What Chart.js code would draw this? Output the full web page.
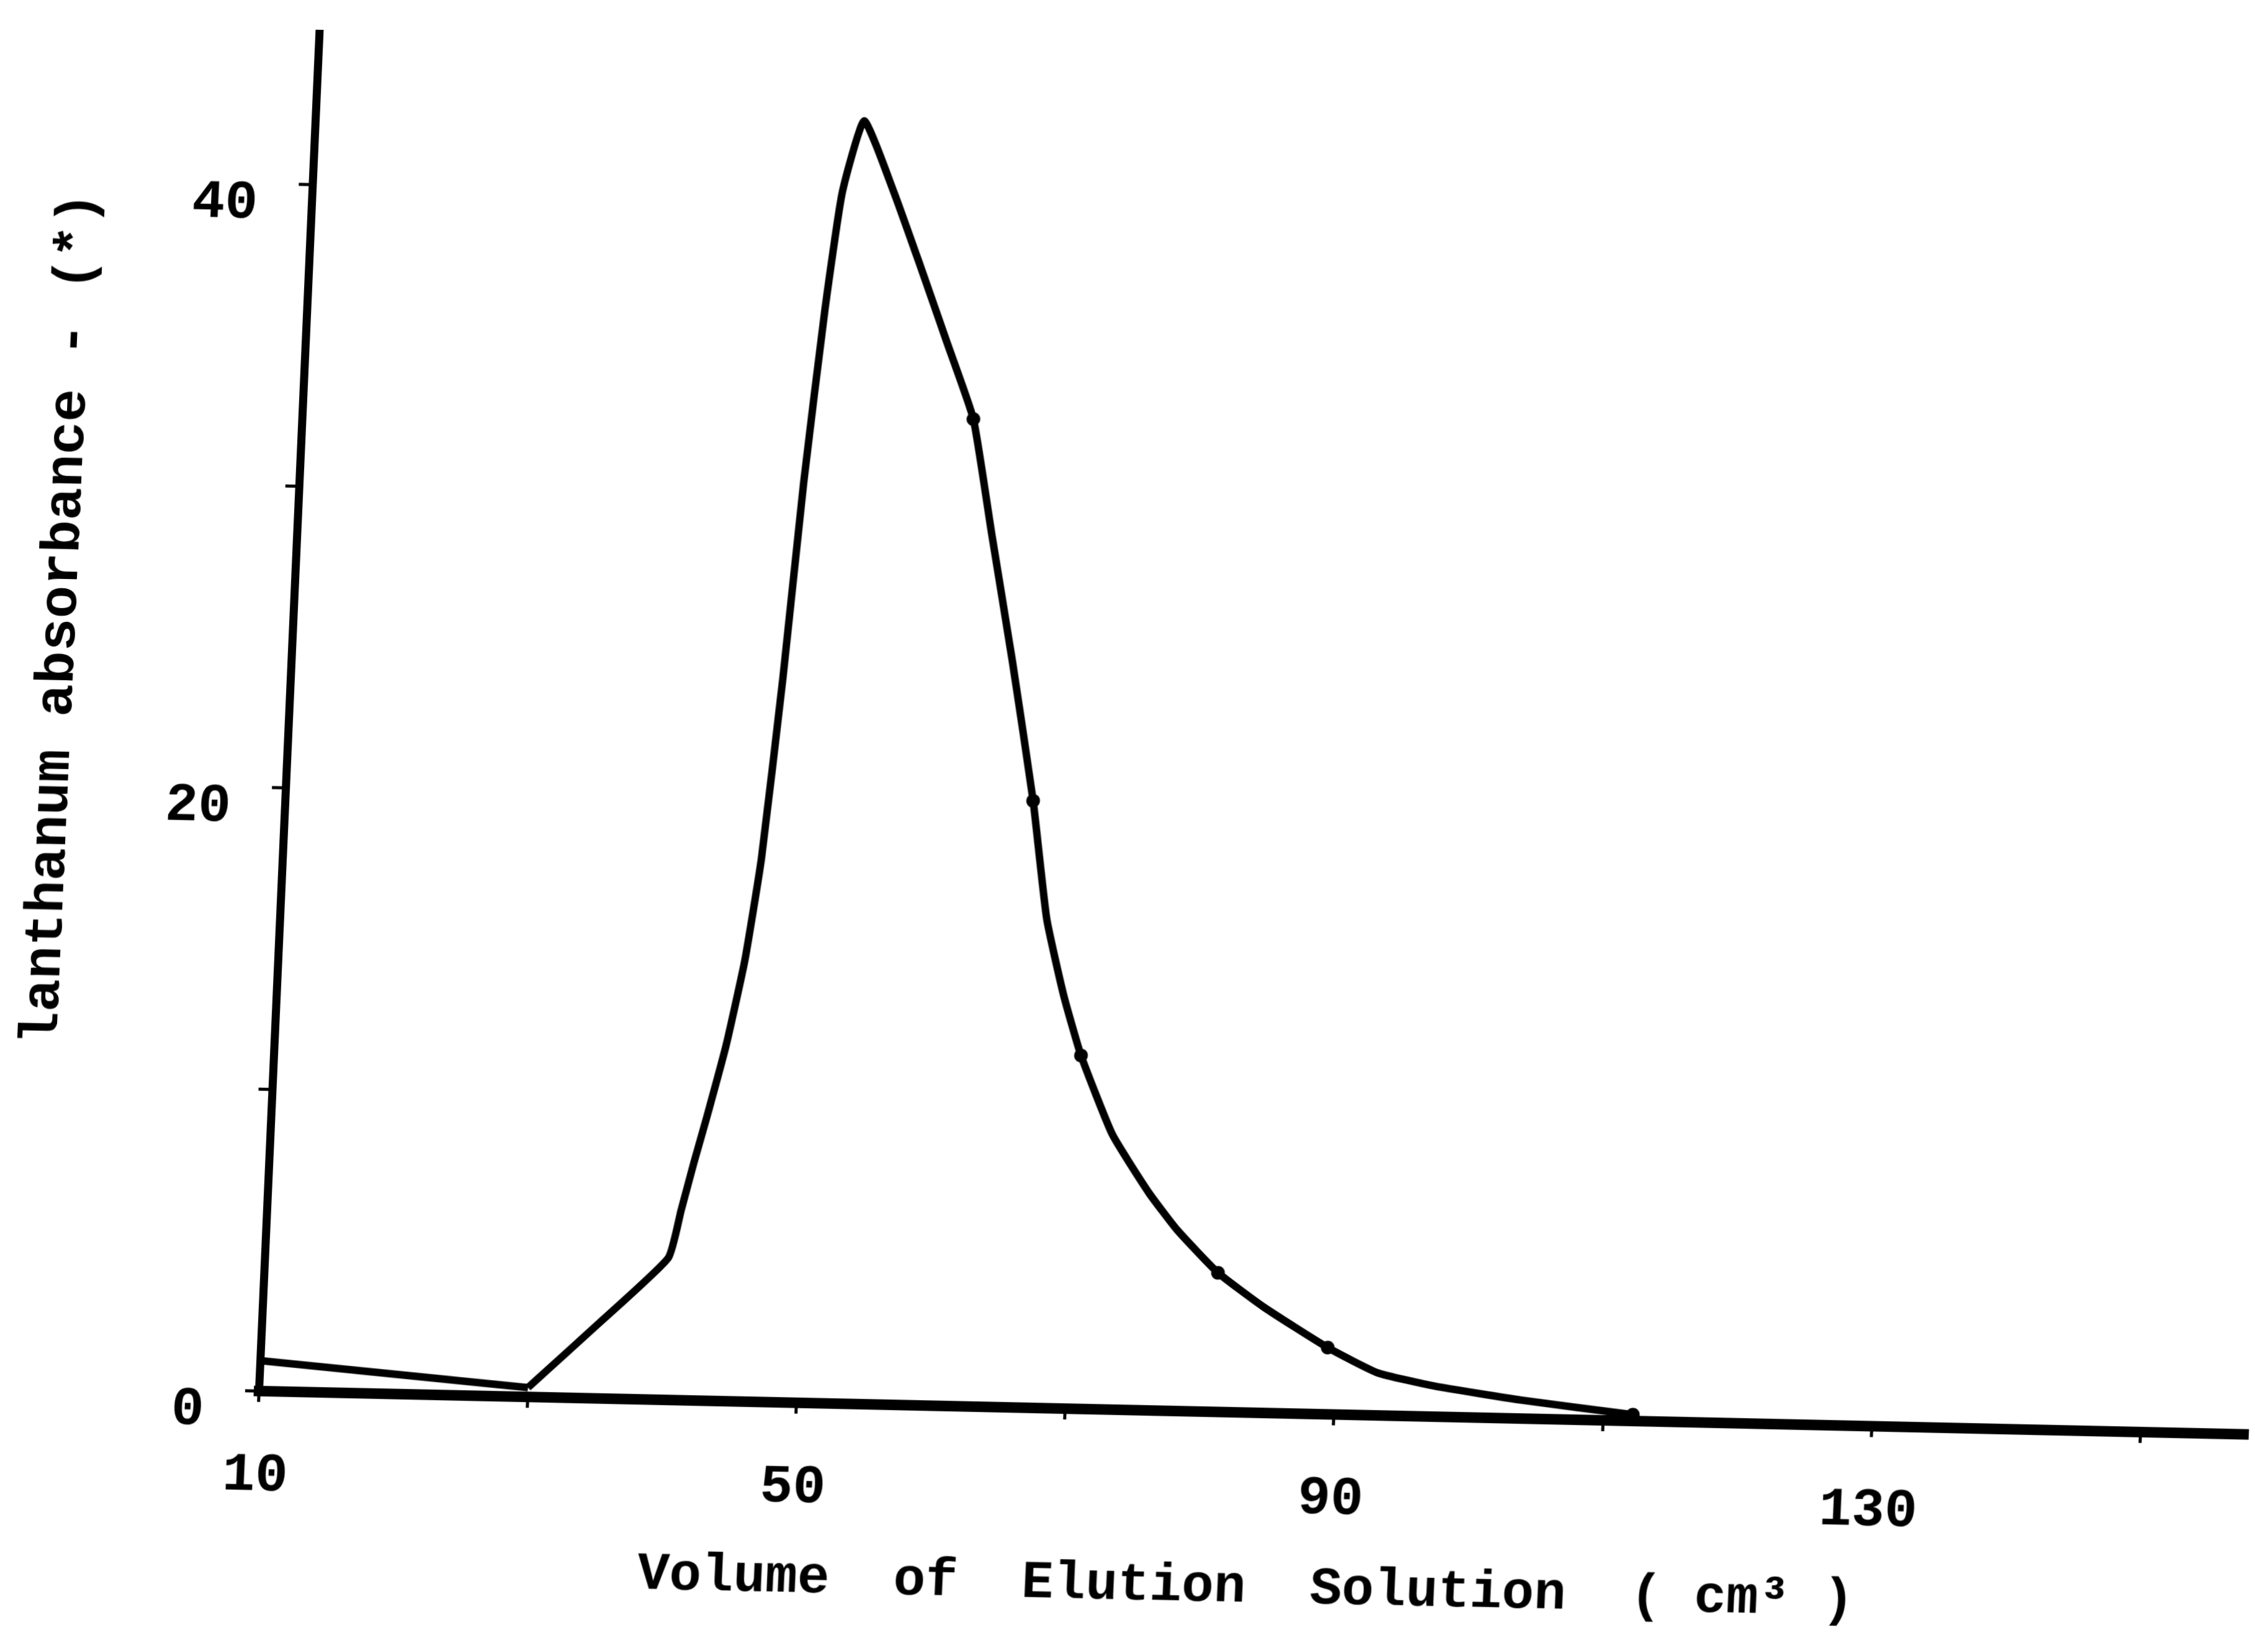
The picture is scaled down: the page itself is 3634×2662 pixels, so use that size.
<!DOCTYPE html>
<html>
<head>
<meta charset="utf-8">
<title>Lanthanum elution curve</title>
<script src="https://cdn.jsdelivr.net/npm/chart.js@4.4.1/dist/chart.umd.min.js"></script>
<style>
    html, body { margin: 0; padding: 0; background: #fff; overflow: hidden; }
    /* the plotted sheet is slightly skewed: baseline runs downhill, y axis leans right */
    #sheet {
        position: absolute; left: 0; top: 0;
        width: 3634px; height: 2662px;
        transform-origin: 417px 2241px;
        transform: matrix(1, 0.0218, -0.0445, 1, 0, 0);
    }
</style>
</head>
<body>
<div id="sheet"><canvas id="elution" width="3634" height="2662"></canvas></div>
<script>
    // Elution volume (cm3) and lanthanum absorbance (%)
    const volume = [10, 30, 35.1, 40, 40.8, 41.6, 42.4, 43.6, 44.7, 45.6,
                    46.6, 47.5, 48.5, 49.4, 50.8, 53.2, 55.3, 57.7, 59.9, 61.6,
                    63.6, 65.6, 67.0, 68.5, 70.0, 72.6, 75.5, 77.7, 80.9, 84.4,
                    89.3, 93.1, 97.4, 103.9, 112.2];
    const absorbance = [1.0, 0.3, 2.5, 4.7, 6.3, 7.9, 9.4, 11.8, 14.6, 18.0,
                        24.0, 30.5, 36.2, 40.1, 42.5, 40.2, 37.9, 35.2, 32.7, 29.0,
                        24.7, 20.1, 16.2, 13.7, 11.7, 9.1, 7.2, 6.0, 4.6, 3.5,
                        2.2, 1.4, 1.0, 0.6, 0.2];
    // volumes where a measured point is marked on the curve
    const markedVolumes = [59.9, 65.6, 70.0, 80.9, 89.3, 112.2];
    // the peak starts rising at this volume
    const peakStart = 30;

    // Axis ticks and their labels
    const xTicks = [10, 30, 50, 70, 90, 110, 130, 150];
    const xTickLabels = ['10', '', '50', '', '90', '', '130', ''];
    const yTicks = [0, 10, 20, 30, 40];
    const yTickLabels = ['0', '', '20', '', '40'];

    const xTitle = 'Volume  of  Elution  Solution  ( cm\u00b3 )';
    const yTitle = 'lanthanum absorbance - (*)';

    Chart.defaults.font.family = '"Liberation Mono", "DejaVu Sans Mono", monospace';
    Chart.defaults.font.weight = 'bold';
    Chart.defaults.color = '#000';

    const points = volume.map((v, i) => ({ x: v, y: absorbance[i] }));
    const split = volume.indexOf(peakStart);

    // straight run-in before the peak, then the smoothed elution peak
    const runIn = points.slice(0, split + 1);
    const peak = points.slice(split);

    const lineStyle = {
        borderColor: '#000',
        borderWidth: 12,
        fill: false,
        pointBackgroundColor: '#000',
        pointBorderWidth: 0
    };

    new Chart(document.getElementById('elution'), {
        type: 'line',
        data: {
            datasets: [
                Object.assign({ data: runIn, tension: 0, pointRadius: 0 }, lineStyle),
                Object.assign({
                    data: peak,
                    tension: 0.15,
                    pointRadius: ctx => markedVolumes.includes(peak[ctx.dataIndex].x) ? 11 : 0
                }, lineStyle)
            ]
        },
        options: {
            responsive: false,
            animation: false,
            devicePixelRatio: 1,
            layout: { padding: { top: 54, left: 0, right: 0, bottom: 0 } },
            plugins: {
                legend: { display: false },
                tooltip: { enabled: false }
            },
            scales: {
                x: {
                    type: 'linear',
                    min: 10,
                    max: 158,
                    afterBuildTicks: scale => { scale.ticks = xTicks.map(v => ({ value: v })); },
                    afterFit: scale => {
                        scale.height = 421;
                        scale.paddingLeft = 0;
                        scale.paddingRight = 0;
                    },
                    ticks: {
                        autoSkip: false,
                        maxRotation: 0,
                        padding: 67,
                        font: { size: 88 },
                        callback: (value, index) => xTickLabels[index]
                    },
                    grid: {
                        drawOnChartArea: false,
                        tickLength: 18,
                        tickWidth: 5,
                        tickColor: '#000'
                    },
                    border: { display: true, color: '#000', width: 17 },
                    title: {
                        display: true,
                        text: xTitle,
                        font: { size: 86, lineHeight: 1 },
                        padding: { top: 0, bottom: 95 }
                    }
                },
                y: {
                    min: 0,
                    max: 45,
                    afterBuildTicks: scale => { scale.ticks = yTicks.map(v => ({ value: v })); },
                    afterFit: scale => {
                        scale.width = 417;
                        scale.paddingTop = 0;
                        scale.paddingBottom = 0;
                    },
                    ticks: {
                        autoSkip: false,
                        padding: 65,
                        labelOffset: 34,
                        font: { size: 88 },
                        callback: (value, index) => yTickLabels[index]
                    },
                    grid: {
                        drawOnChartArea: false,
                        tickLength: 22,
                        tickWidth: 5,
                        tickColor: '#000'
                    },
                    border: { display: true, color: '#000', width: 13 },
                    title: {
                        display: true,
                        // padded so the label ends a little below the top of the axis
                        text: yTitle + '     ',
                        align: 'end',
                        font: { size: 88, lineHeight: 1 },
                        padding: 0
                    }
                }
            }
        }
    });
</script>
</body>
</html>
